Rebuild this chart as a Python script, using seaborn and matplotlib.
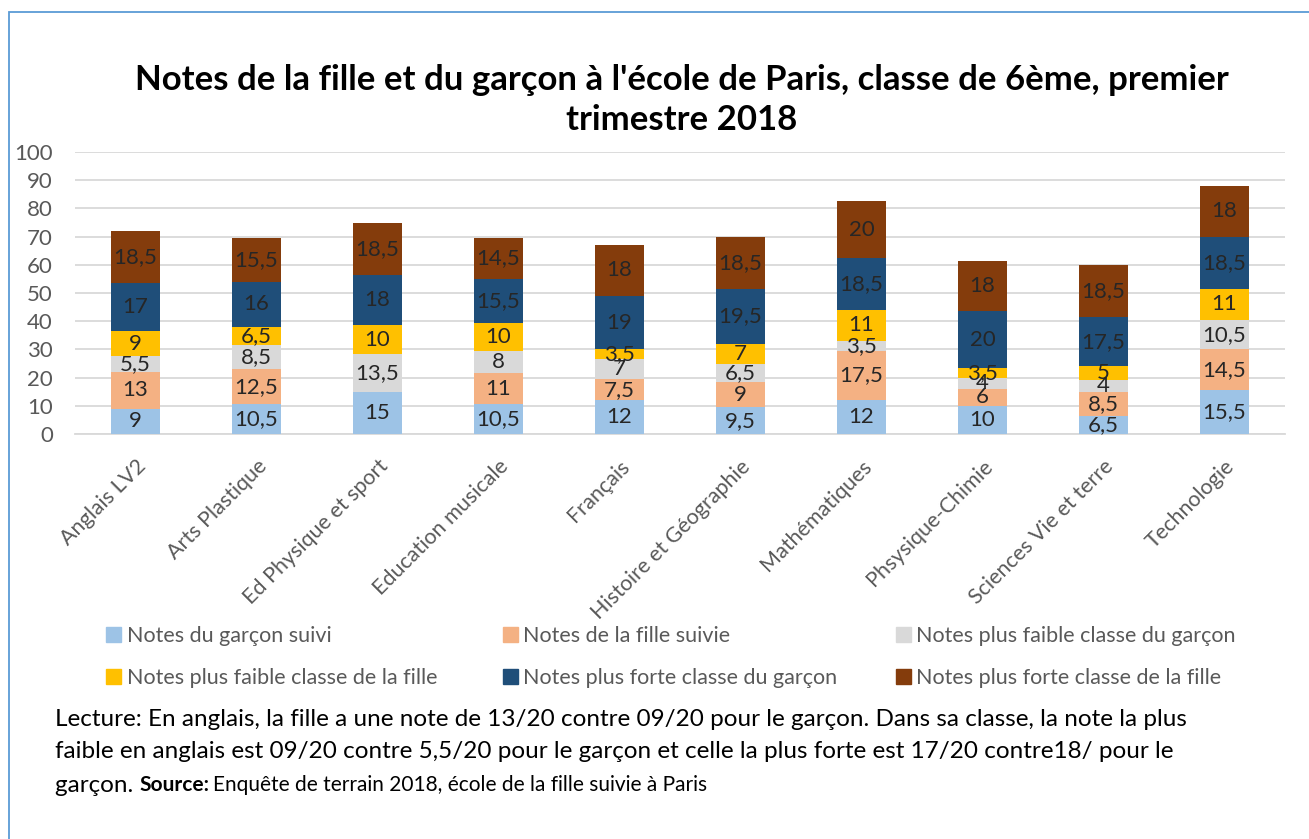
import matplotlib.pyplot as plt
import matplotlib.patches as mpatches
import pandas as pd
import seaborn as sns

# Data
subjects = ['Anglais LV2', 'Arts Plastique', 'Ed Physique et sport', 'Education musicale',
            'Français', 'Histoire et Géographie', 'Mathématiques', 'Phsysique-Chimie',
            'Sciences Vie et terre', 'Technologie']
series_names = ['Notes du garçon suivi', 'Notes de la fille suivie',
                'Notes plus faible classe du garçon', 'Notes plus faible classe de la fille',
                'Notes plus forte classe du garçon', 'Notes plus forte classe de la fille']
garcon_suivi = [9, 10.5, 15, 10.5, 12, 9.5, 12, 10, 6.5, 15.5]
fille_suivie = [13, 12.5, 0, 11, 7.5, 9, 17.5, 6, 8.5, 14.5]
faible_garcon = [5.5, 8.5, 13.5, 8, 7, 6.5, 3.5, 4, 4, 10.5]
faible_fille = [9, 6.5, 10, 10, 3.5, 7, 11, 3.5, 5, 11]
forte_garcon = [17, 16, 18, 15.5, 19, 19.5, 18.5, 20, 17.5, 18.5]
forte_fille = [18.5, 15.5, 18.5, 14.5, 18, 18.5, 20, 18, 18.5, 18]
colors = ['#9DC3E6', '#F4B183', '#D9D9D9', '#FFC000', '#1F4E79', '#843C0C']

values = [garcon_suivi, fille_suivie, faible_garcon, faible_fille, forte_garcon, forte_fille]
df = pd.DataFrame(dict(zip(series_names, values)), index=subjects)
cum = df.cumsum(axis=1)

plt.rcParams['font.family'] = ['Lato', 'DejaVu Sans']

fig = plt.figure(figsize=(13.09, 8.39), dpi=100)
ax = fig.add_axes([0.0573, 0.4827, 0.9244, 0.3361])

# stacked bars: draw cumulative totals from the top series down
for name, col in reversed(list(zip(series_names, colors))):
    sns.barplot(x=subjects, y=cum[name].values, color=col, width=0.4,
                saturation=1, ax=ax, zorder=3, edgecolor='none')

# data labels
for i, subj in enumerate(subjects):
    for name in series_names:
        v = df.loc[subj, name]
        if v == 0:
            continue
        txt = ('%g' % v).replace('.', ',')
        ax.text(i, cum.loc[subj, name] - v / 2, txt, ha='center', va='center',
                fontsize=16, color='#262626', zorder=4)

ax.set_xlim(-0.5, 9.5)
ax.set_ylim(0, 100)
ax.set_yticks(range(0, 101, 10))
ax.yaxis.grid(True, color='#D9D9D9', lw=1.3, zorder=0)
ax.set_axisbelow(True)
for s in ['top', 'right', 'left']:
    ax.spines[s].set_visible(False)
ax.spines['bottom'].set_color('#D9D9D9')
ax.spines['bottom'].set_linewidth(1.3)
ax.tick_params(axis='both', length=0, labelsize=16, labelcolor='#595959')
ax.tick_params(axis='x', labelsize=15.5, pad=16)
ax.tick_params(axis='y', pad=16)
ax.set_xlabel('')
ax.set_ylabel('')
for lab in ax.get_xticklabels():
    lab.set_rotation(45)
    lab.set_ha('right')
    lab.set_rotation_mode('anchor')

fig.text(0.521, 0.881, "Notes de la fille et du garçon à l'école de Paris, classe de 6ème, premier\ntrimestre 2018",
         ha='center', va='center', fontsize=25, fontweight='bold', color='black',
         linespacing=1.3)

# legend: three columns placed where the reference has them
col_x = [0.073, 0.376, 0.676]
for k in range(3):
    hs = [mpatches.Patch(color=colors[j], label=series_names[j]) for j in (k, k + 3)]
    fig.legend(handles=hs, loc='upper left', bbox_to_anchor=(col_x[k], 0.267),
               frameon=False, fontsize=15.5, handlelength=0.7, handleheight=0.7,
               handletextpad=0.25, labelspacing=1.05, borderpad=0,
               labelcolor='#595959')

fig.text(0.042, 0.143, "Lecture: En anglais, la fille a une note de 13/20 contre 09/20 pour le garçon. Dans sa classe, la note la plus",
         fontsize=17.5, va='center')
fig.text(0.042, 0.104, "faible en anglais est 09/20 contre 5,5/20 pour le garçon et celle la plus forte est 17/20 contre18/ pour le",
         fontsize=17.5, va='center')
t1 = fig.text(0.042, 0.064, "garçon. ", fontsize=17.5, va='center')
fig.canvas.draw()
x2 = t1.get_window_extent().x1 / fig.bbox.width
t2 = fig.text(x2, 0.064, "Source:", fontsize=15, fontweight='bold', va='center')
x3 = t2.get_window_extent().x1 / fig.bbox.width + 0.003
fig.text(x3, 0.064, "Enquête de terrain 2018, école de la fille suivie à Paris",
         fontsize=15, va='center')

fig.patches.append(mpatches.Rectangle((0.0065, -0.01), 1.0, 0.9957, transform=fig.transFigure,
                                      fill=False, edgecolor='#5B9BD5', lw=1.3))

fig.savefig('out.png', dpi=100)
